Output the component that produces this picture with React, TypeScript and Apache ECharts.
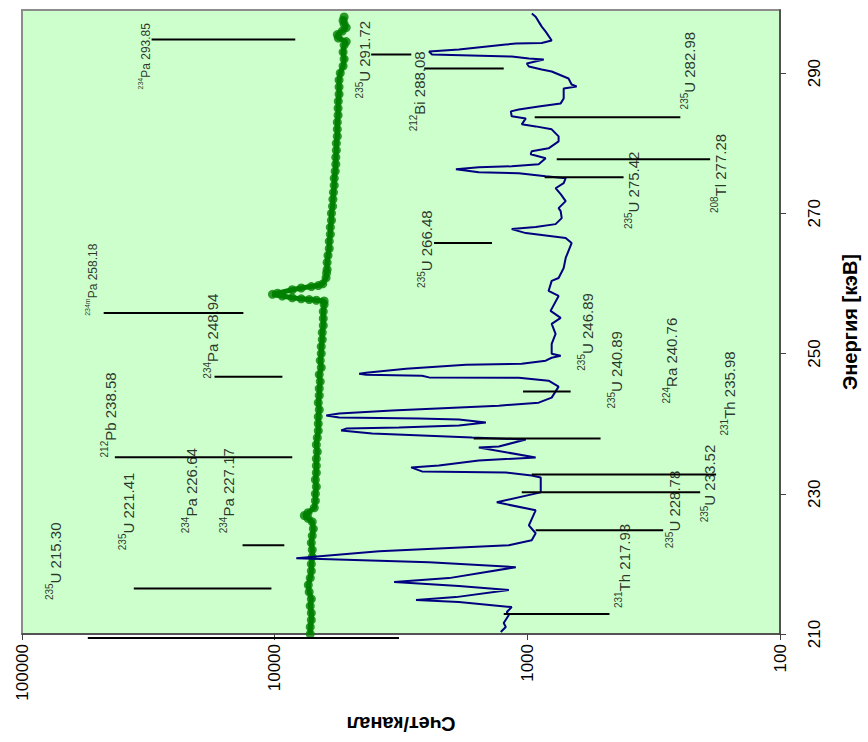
import React, { useEffect, useRef } from "react";
import * as echarts from "echarts";

const energyTicks = [210, 230, 250, 270, 290];

const greenEnergy = [
  210, 211, 212, 213, 214, 215, 216, 217, 218, 219, 220, 221, 222, 223, 224, 225, 226, 226.5, 226.9, 227.3,
  228, 229, 230, 231, 232, 233, 234, 235, 236, 237, 238, 239, 240, 241, 242, 243, 244, 245, 246, 247, 248,
  249, 250, 251, 252, 253, 254, 255, 256, 257, 257.5, 257.6, 257.7, 257.8, 257.95, 258.2, 258.45, 258.6,
  259.1, 259.35, 259.55, 259.7, 259.95, 260.8, 261.5, 262, 263, 264, 265, 266, 267, 268, 269, 270, 271, 272,
  273, 274, 275, 276, 277, 278, 279, 280, 281, 282, 283, 284, 285, 286, 287, 288, 289, 290, 291, 292, 293,
  294, 294.5, 295, 295.5, 296, 296.5, 297, 297.5, 298,
];
const greenCount = [
  7230, 7230, 7160, 7160, 7230, 7160, 7300, 7360, 7230, 7160, 7160, 7100, 7100, 7160, 7100, 7030, 7100, 7380, 7630, 7380,
  6970, 6900, 6900, 6840, 6900, 6840, 6840, 6840, 6780, 6840, 6780, 6720, 6720, 6720, 6660, 6720, 6660, 6660, 6600, 6660, 6540,
  6600, 6540, 6540, 6480, 6480, 6420, 6420, 6420, 6370, 6370, 6840, 7300, 7850, 8520, 9330, 10200, 9750,
  8520, 7850, 7160, 6720, 6450, 6260, 6230, 6200, 6200, 6150, 6080, 6080, 6020, 6020, 5960, 5960, 5900, 5880,
  5850, 5810, 5810, 5760, 5730, 5730, 5700, 5700, 5650, 5650, 5650, 5610, 5610, 5600, 5560, 5560, 5560, 5500, 5360, 5310, 5360,
  5310, 5210, 5600, 5650, 5400, 5210, 5310, 5360, 5310,
];

const blueEnergy = [
  210.28, 211.0, 211.56, 212.7, 213.13, 213.84, 214.55, 214.84, 215.26, 216.26, 216.83, 217.4, 217.97, 219.53,
  220.24, 220.81, 221.81, 222.66, 223.37, 224.37, 225.5, 227.64, 228.78, 230.2, 232.33, 232.62, 233.04, 233.19,
  233.76, 234.04, 234.75, 235.18, 236.6, 236.74, 237.74, 238.02, 238.59, 239.02, 239.3, 239.45, 239.73, 240.16,
  240.58, 240.75, 240.87, 241.15, 241.44, 241.86, 242.57, 243.0, 243.71, 245.28, 246.13, 246.56, 246.6, 246.84,
  246.98, 247.13, 247.27, 247.84, 248.41, 248.55, 248.98, 249.4, 249.69, 249.97, 251.39, 252.82, 254.24, 255.09,
  256.09, 258.22, 258.93, 260.36, 260.78, 262.2, 263.63, 265.76, 266.47, 267.18, 267.75, 268.04, 268.46, 269.32,
  270.31, 270.74, 271.74, 272.73, 273.58, 274.3, 275.01, 275.29, 275.72, 275.86, 276.29, 276.57, 276.71, 277.0,
  277.85, 278.42, 278.85, 279.27, 280.27, 280.98, 281.98, 282.4, 282.69, 283.54, 283.83, 284.54, 284.82, 285.25,
  285.68, 286.39, 287.81, 288.1, 288.38, 289.23, 290.23, 290.51, 290.94, 291.37, 291.94, 292.08, 292.36, 292.65,
  293.07, 293.36, 294.07, 294.21, 294.3, 294.64, 295.92, 296.63, 297.34, 298.05, 298.5,
];
const blueCount = [
  1274, 1217, 1240, 1184, 1206, 1153, 1866, 2758, 1917, 1184, 1866, 3367, 2042, 1111,
  2449, 8210, 3862, 1184, 961, 927, 986, 927, 1321, 885, 885, 961, 1217, 2612,
  2884, 2239, 1556, 927, 1556, 1297, 1014, 1657, 4112, 5454, 5212, 3221, 1866, 1459,
  1866, 2683, 5556, 6250, 5556, 3428, 1297, 902, 801, 752, 824, 1081, 2449, 2612,
  4346, 4630, 4346, 3020, 1751, 1052, 846, 801, 738, 801, 801, 773, 801, 738,
  809, 752, 824, 801, 752, 718, 705, 668, 705, 1014, 1153, 927, 773, 731,
  738, 752, 705, 738, 773, 718, 705, 846, 1081, 1556, 1917, 1556, 1153, 902,
  846, 970, 961, 824, 752, 752, 801, 927, 1052, 1014, 1153, 1162, 1081, 902,
  738, 718, 718, 638, 668, 687, 801, 877, 986, 1005, 861, 986, 1153, 2384,
  2449, 1866, 1217, 1111, 877, 801, 846, 877, 902, 927, 960,
];

const markEnergy = [
  294.78, 292.65, 290.65, 283.7, 277.7, 275.15, 265.76, 255.8, 246.7, 244.57,
  237.9, 235.2, 232.76, 230.2, 224.79, 222.66, 216.5, 212.85, 209.43,
];
const markFrom = [
  30700, 4150, 2560, 935, 765, 854, 2340, 47500, 17300, 1040,
  1630, 42900, 961, 1052, 927, 13400, 36100, 1240, 54900,
];
const markTo = [
  8290, 2880, 1240, 248, 189, 416, 1380, 13300, 9320, 674,
  513, 8520, 179, 207, 290, 9160, 10300, 473, 3220,
];

const labelIsotope = [
  "234", "234m", "212", "235", "234", "234", "235", "234", "235", "212", "235",
  "235", "235", "235", "208", "235", "224", "231", "235", "235", "231",
];
const labelText = [
  "Pa 293.85", "Pa 258.18", "Pb 238.58", "U 221.41", "Pa 226.64", "Pa 227.17", "U 215.30",
  "Pa 248.94", "U 291.72", "Bi 288.08", "U 266.48", "U 246.89", "U 240.89", "U 282.98",
  "Tl 277.28", "U 275.42", "Ra 240.76", "Th 235.98", "U 233.52", "U 228.78", "Th 217.93",
];
const labelSmall = [
  true, true, false, false, false, false, false, false, false, false, false,
  false, false, false, false, false, false, false, false, false, false,
];
const labelCount = [
  32700, 52900, 45400, 38500, 21700, 15400, 74800, 17800, 4460, 2710, 2540,
  588, 448, 231, 175, 384, 272, 160, 192, 264, 420,
];
const labelEnergy = [
  287.67, 255.38, 235.18, 221.95, 224.37, 224.37, 214.84, 246.42, 286.39, 281.69, 259.36,
  247.55, 242.15, 284.82, 270.03, 267.75, 242.86, 238.31, 225.93, 222.23, 213.7,
];

export default function App() {
  const ref = useRef<HTMLDivElement>(null);
  useEffect(() => {
    const chart = echarts.init(ref.current!, null, { renderer: "svg" });
    const font = "'Liberation Sans', Arial, sans-serif";
    const series: any[] = [];
    const greenData = greenEnergy.map((e, i) => [greenCount[i], e]);
    series.push({
      type: "line",
      data: greenData,
      symbol: "none",
      showSymbol: false,
      lineStyle: { color: "#008000", width: 5 },
      silent: true,
      z: 2,
    });
    series.push({
      type: "scatter",
      data: greenData,
      symbol: "circle",
      symbolSize: 9,
      itemStyle: { color: "#008000" },
      silent: true,
      z: 3,
    });
    series.push({
      type: "line",
      data: blueEnergy.map((e, i) => [blueCount[i], e]),
      symbol: "none",
      showSymbol: false,
      lineStyle: { color: "#000080", width: 2 },
      silent: true,
      z: 4,
    });
    markEnergy.forEach((e, i) => {
      series.push({
        type: "line",
        data: [
          [markFrom[i], e],
          [markTo[i], e],
        ],
        symbol: "none",
        showSymbol: false,
        clip: false,
        lineStyle: { color: "#000", width: 2 },
        silent: true,
        z: 5,
      });
    });
    series.push({
      type: "scatter",
      data: labelEnergy.map((e, i) => ({
        value: [labelCount[i], e],
        iso: labelIsotope[i],
        txt: labelText[i],
        small: labelSmall[i],
      })),
      symbolSize: 1,
      itemStyle: { color: "rgba(0,0,0,0)" },
      silent: true,
      z: 6,
      label: {
        show: true,
        position: "inside",
        rotate: 90,
        align: "left",
        verticalAlign: "middle",
        formatter: (p: any) =>
          p.data.small ? `{ss|${p.data.iso}}{st|${p.data.txt}}` : `{s|${p.data.iso}}{t|${p.data.txt}}`,
        rich: {
          s: { fontSize: 10, fontFamily: font, color: "#000", verticalAlign: "top", lineHeight: 18 },
          t: { fontSize: 15, fontFamily: font, color: "#000", verticalAlign: "bottom", lineHeight: 18 },
          ss: { fontSize: 7, fontFamily: font, color: "#000", verticalAlign: "top", lineHeight: 15 },
          st: { fontSize: 12, fontFamily: font, color: "#000", verticalAlign: "bottom", lineHeight: 15 },
        },
      },
    });

    chart.setOption({
      animation: false,
      backgroundColor: "#ffffff",
      textStyle: { fontFamily: font },
      grid: {
        left: 22,
        right: 86,
        top: 10,
        bottom: 108,
        show: true,
        backgroundColor: "#CCFFCC",
        borderColor: "#8c8c8c",
        borderWidth: 2,
      },
      xAxis: {
        type: "log",
        logBase: 10,
        min: 100,
        max: 100000,
        inverse: true,
        position: "bottom",
        axisLine: { show: true, onZero: false, lineStyle: { color: "#404040", width: 1.5 } },
        axisTick: { show: true, length: 6, lineStyle: { color: "#404040" } },
        minorTick: { show: false },
        splitLine: { show: false },
        axisLabel: {
          rotate: 90,
          fontSize: 17,
          color: "#000",
          margin: 10,
          fontFamily: font,
          formatter: (v: number) => String(Math.round(v)),
        },
        name: "Счет/канал",
        nameLocation: "middle",
        nameGap: 80,
        nameRotate: 180,
        nameTextStyle: { fontSize: 20, fontWeight: "bold", color: "#000", fontFamily: font },
      },
      yAxis: {
        type: "value",
        position: "right",
        min: 210,
        max: 299,
        axisLine: { show: true, onZero: false, lineStyle: { color: "#404040", width: 1.5 } },
        axisTick: { show: true, length: 6, lineStyle: { color: "#404040" }, customValues: energyTicks },
        splitLine: { show: false },
        axisLabel: {
          rotate: 90,
          fontSize: 17,
          color: "#000",
          margin: 26,
          fontFamily: font,
          customValues: energyTicks,
        },
        name: "Энергия [кэВ]",
        nameLocation: "middle",
        nameGap: 60,
        nameRotate: 90,
        nameTextStyle: { fontSize: 20, fontWeight: "bold", color: "#000", fontFamily: font },
      },
      series,
    });
    return () => chart.dispose();
  }, []);
  return (
    <div
      ref={ref}
      style={{ position: "fixed", left: 0, top: 0, width: 868, height: 742, background: "#fff" }}
    />
  );
}
